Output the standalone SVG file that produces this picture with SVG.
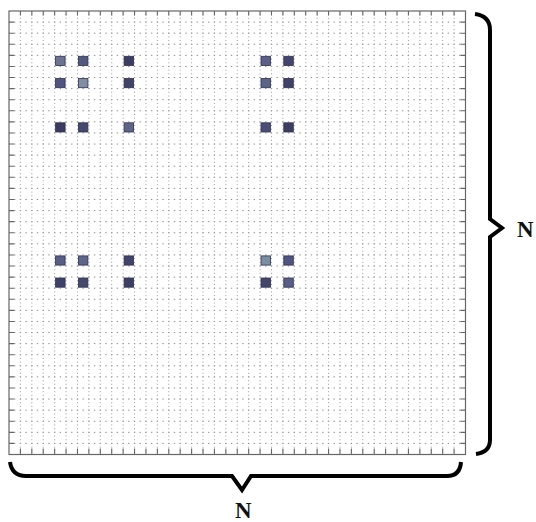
<svg xmlns="http://www.w3.org/2000/svg" width="536" height="522" viewBox="0 0 536 522">
<style>
.dh{fill:none;stroke:#8c8c8c;stroke-width:1;stroke-dasharray:1.4 4.306;stroke-dashoffset:0.7}
.dv{fill:none;stroke:#9a9a9a;stroke-width:1;stroke-dasharray:1 2.696;stroke-dashoffset:0.5}
.tick{fill:none;stroke:#666;stroke-width:1.1}
.frame{fill:none;stroke:#666;stroke-width:1.2}
.cell{stroke:#2e3050;stroke-width:0.8}
.brace{fill:none;stroke:#000;stroke-width:4;stroke-linejoin:miter;stroke-linecap:butt}
.lbl{font-family:"Liberation Serif","Times New Roman",serif;font-weight:bold;font-size:23px;fill:#111}
</style>
<rect width="536" height="522" fill="#fff"/>
<g id="grid">
<path class="dh" d="M9 22.09H465.5M9 33.18H465.5M9 44.26H465.5M9 55.35H465.5M9 66.44H465.5M9 77.53H465.5M9 88.61H465.5M9 99.7H465.5M9 110.79H465.5M9 121.88H465.5M9 132.96H465.5M9 144.05H465.5M9 155.14H465.5M9 166.23H465.5M9 177.31H465.5M9 188.4H465.5M9 199.49H465.5M9 210.58H465.5M9 221.66H465.5M9 232.75H465.5M9 243.84H465.5M9 254.93H465.5M9 266.01H465.5M9 277.1H465.5M9 288.19H465.5M9 299.28H465.5M9 310.36H465.5M9 321.45H465.5M9 332.54H465.5M9 343.63H465.5M9 354.71H465.5M9 365.8H465.5M9 376.89H465.5M9 387.98H465.5M9 399.06H465.5M9 410.15H465.5M9 421.24H465.5M9 432.33H465.5M9 443.41H465.5"/>
<path class="dv" d="M20.41 11V454.5M31.83 11V454.5M43.24 11V454.5M54.65 11V454.5M66.06 11V454.5M77.48 11V454.5M88.89 11V454.5M100.3 11V454.5M111.71 11V454.5M123.13 11V454.5M134.54 11V454.5M145.95 11V454.5M157.36 11V454.5M168.78 11V454.5M180.19 11V454.5M191.6 11V454.5M203.01 11V454.5M214.43 11V454.5M225.84 11V454.5M237.25 11V454.5M248.66 11V454.5M260.08 11V454.5M271.49 11V454.5M282.9 11V454.5M294.31 11V454.5M305.73 11V454.5M317.14 11V454.5M328.55 11V454.5M339.96 11V454.5M351.38 11V454.5M362.79 11V454.5M374.2 11V454.5M385.61 11V454.5M397.03 11V454.5M408.44 11V454.5M419.85 11V454.5M431.26 11V454.5M442.68 11V454.5M454.09 11V454.5"/>
<path class="tick" d="M9 22.09h5M9 33.18h5M9 44.26h5M9 55.35h5M9 66.44h5M9 77.53h5M9 88.61h5M9 99.7h5M9 110.79h5M9 121.88h5M9 132.96h5M9 144.05h5M9 155.14h5M9 166.23h5M9 177.31h5M9 188.4h5M9 199.49h5M9 210.58h5M9 221.66h5M9 232.75h5M9 243.84h5M9 254.93h5M9 266.01h5M9 277.1h5M9 288.19h5M9 299.28h5M9 310.36h5M9 321.45h5M9 332.54h5M9 343.63h5M9 354.71h5M9 365.8h5M9 376.89h5M9 387.98h5M9 399.06h5M9 410.15h5M9 421.24h5M9 432.33h5M9 443.41h5"/>
<path class="tick" d="M465.5 22.09h-5M465.5 33.18h-5M465.5 44.26h-5M465.5 55.35h-5M465.5 66.44h-5M465.5 77.53h-5M465.5 88.61h-5M465.5 99.7h-5M465.5 110.79h-5M465.5 121.88h-5M465.5 132.96h-5M465.5 144.05h-5M465.5 155.14h-5M465.5 166.23h-5M465.5 177.31h-5M465.5 188.4h-5M465.5 199.49h-5M465.5 210.58h-5M465.5 221.66h-5M465.5 232.75h-5M465.5 243.84h-5M465.5 254.93h-5M465.5 266.01h-5M465.5 277.1h-5M465.5 288.19h-5M465.5 299.28h-5M465.5 310.36h-5M465.5 321.45h-5M465.5 332.54h-5M465.5 343.63h-5M465.5 354.71h-5M465.5 365.8h-5M465.5 376.89h-5M465.5 387.98h-5M465.5 399.06h-5M465.5 410.15h-5M465.5 421.24h-5M465.5 432.33h-5M465.5 443.41h-5"/>
<path class="tick" d="M20.41 11v4.5M31.83 11v4.5M43.24 11v4.5M54.65 11v4.5M66.06 11v4.5M77.48 11v4.5M88.89 11v4.5M100.3 11v4.5M111.71 11v4.5M123.13 11v4.5M134.54 11v4.5M145.95 11v4.5M157.36 11v4.5M168.78 11v4.5M180.19 11v4.5M191.6 11v4.5M203.01 11v4.5M214.43 11v4.5M225.84 11v4.5M237.25 11v4.5M248.66 11v4.5M260.08 11v4.5M271.49 11v4.5M282.9 11v4.5M294.31 11v4.5M305.73 11v4.5M317.14 11v4.5M328.55 11v4.5M339.96 11v4.5M351.38 11v4.5M362.79 11v4.5M374.2 11v4.5M385.61 11v4.5M397.03 11v4.5M408.44 11v4.5M419.85 11v4.5M431.26 11v4.5M442.68 11v4.5M454.09 11v4.5"/>
<path class="tick" d="M20.41 454.5v-6M31.83 454.5v-6M43.24 454.5v-6M54.65 454.5v-6M66.06 454.5v-6M77.48 454.5v-6M88.89 454.5v-6M100.3 454.5v-6M111.71 454.5v-6M123.13 454.5v-6M134.54 454.5v-6M145.95 454.5v-6M157.36 454.5v-6M168.78 454.5v-6M180.19 454.5v-6M191.6 454.5v-6M203.01 454.5v-6M214.43 454.5v-6M225.84 454.5v-6M237.25 454.5v-6M248.66 454.5v-6M260.08 454.5v-6M271.49 454.5v-6M282.9 454.5v-6M294.31 454.5v-6M305.73 454.5v-6M317.14 454.5v-6M328.55 454.5v-6M339.96 454.5v-6M351.38 454.5v-6M362.79 454.5v-6M374.2 454.5v-6M385.61 454.5v-6M397.03 454.5v-6M408.44 454.5v-6M419.85 454.5v-6M431.26 454.5v-6M442.68 454.5v-6M454.09 454.5v-6"/>
<rect class="frame" x="9" y="11" width="456.5" height="443.5"/>
</g>
<g id="cells">
<rect class="cell" x="55.6" y="56.3" width="9.5" height="9.2" fill="#6b7592"/>
<rect class="cell" x="78.4" y="56.3" width="9.5" height="9.2" fill="#535a80"/>
<rect class="cell" x="124.1" y="56.3" width="9.5" height="9.2" fill="#3b3d62"/>
<rect class="cell" x="55.6" y="78.5" width="9.5" height="9.2" fill="#4f5480"/>
<rect class="cell" x="78.4" y="78.5" width="9.5" height="9.2" fill="#8090a2"/>
<rect class="cell" x="124.1" y="78.5" width="9.5" height="9.2" fill="#404468"/>
<rect class="cell" x="55.6" y="122.8" width="9.5" height="9.2" fill="#3a3b5e"/>
<rect class="cell" x="78.4" y="122.8" width="9.5" height="9.2" fill="#45496e"/>
<rect class="cell" x="124.1" y="122.8" width="9.5" height="9.2" fill="#5e6688"/>
<rect class="cell" x="261" y="56.3" width="9.5" height="9.2" fill="#5a6088"/>
<rect class="cell" x="283.8" y="56.3" width="9.5" height="9.2" fill="#43466c"/>
<rect class="cell" x="261" y="78.5" width="9.5" height="9.2" fill="#5a6489"/>
<rect class="cell" x="283.8" y="78.5" width="9.5" height="9.2" fill="#3f4268"/>
<rect class="cell" x="261" y="122.8" width="9.5" height="9.2" fill="#4a4f78"/>
<rect class="cell" x="283.8" y="122.8" width="9.5" height="9.2" fill="#3c3e62"/>
<rect class="cell" x="55.6" y="255.9" width="9.5" height="9.2" fill="#585f85"/>
<rect class="cell" x="78.4" y="255.9" width="9.5" height="9.2" fill="#5f6688"/>
<rect class="cell" x="124.1" y="255.9" width="9.5" height="9.2" fill="#40436a"/>
<rect class="cell" x="55.6" y="278" width="9.5" height="9.2" fill="#3f4268"/>
<rect class="cell" x="78.4" y="278" width="9.5" height="9.2" fill="#45496e"/>
<rect class="cell" x="124.1" y="278" width="9.5" height="9.2" fill="#3d4066"/>
<rect class="cell" x="261" y="255.9" width="9.5" height="9.2" fill="#7a8fa0"/>
<rect class="cell" x="283.8" y="255.9" width="9.5" height="9.2" fill="#4f5580"/>
<rect class="cell" x="261" y="278" width="9.5" height="9.2" fill="#43476e"/>
<rect class="cell" x="283.8" y="278" width="9.5" height="9.2" fill="#575f88"/>
</g>
<g id="braces">
<path class="brace" d="M475 14Q490 16 490 30V219L502 228L490 237V440Q490 452 476 454"/>
<path class="brace" d="M10 462Q12 476 26 476H232L242 490L251 476H447Q460 476 461 462"/>
</g>
<g id="labels">
<text class="lbl" x="517" y="237">N</text>
<text class="lbl" x="235" y="518">N</text>
</g>
</svg>
